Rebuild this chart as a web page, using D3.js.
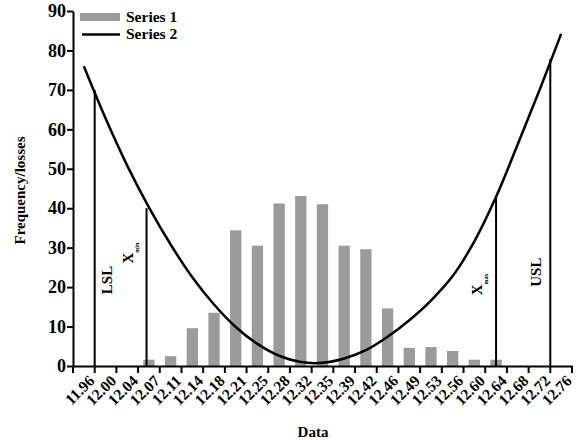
<!DOCTYPE html>
<html>
<head>
<meta charset="utf-8">
<script src="https://cdn.jsdelivr.net/npm/d3@7"></script>
<style>
  body { margin: 0; background: #fff; }
  svg text { font-family: "Liberation Serif", "Times New Roman", serif; font-weight: bold; }
</style>
</head>
<body>
<svg id="chart" width="578" height="440"></svg>
<script>
var categories = ["11.96", "12.00", "12.04", "12.07", "12.11", "12.14", "12.18", "12.21",
    "12.25", "12.28", "12.32", "12.35", "12.39", "12.42", "12.46", "12.49", "12.53",
    "12.56", "12.60", "12.64", "12.68", "12.72", "12.76"];

// Series 1: frequency bars
var series1 = [0, 0, 0, 1.6, 2.5, 9.6, 13.5, 34.4, 30.5, 41.2, 43.1, 41.0, 30.5, 29.6,
    14.6, 4.6, 4.8, 3.8, 1.6, 1.6, 0, 0, 0];

// Series 2: losses curve
var series2 = [76, 62.8, 50.8, 40.2, 30.8, 22.5, 15.6, 9.9, 5.6, 2.6, 1.0, 0.8, 1.9, 4.0,
    7.4, 11.6, 16.6, 22.8, 31.6, 42.9, 56.2, 69.9, 84.2];

var yTicks = [0, 10, 20, 30, 40, 50, 60, 70, 80, 90];

// spec limits, position in category index units, top = value on curve
var specNames = ["LSL", "X", "X", "USL"];
var specSubs = ["", "min", "max", ""];
var specPos = [0.5, 2.89, 19, 21.5];
var specTop = [70, 40, 42.9, 77.8];

var margin = {left: 73, right: 6, top: 11, bottom: 74};
var width = 578, height = 440;
var svg = d3.select("#chart");

var x = d3.scaleBand()
    .domain(categories)
    .range([margin.left, width - margin.right])
    .paddingInner(0.48)
    .paddingOuter(0.24);

// index scale, centre of band i at xi(i)
var xi = d3.scaleLinear()
    .domain([-0.5, categories.length - 0.5])
    .range([margin.left, width - margin.right]);

var y = d3.scaleLinear()
    .domain([0, 90])
    .range([height - margin.bottom, margin.top]);

// bars
svg.append("g").selectAll("rect")
    .data(series1.map(function(v, i) { return {c: categories[i], v: v}; })
        .filter(function(d) { return d.v > 0; }))
    .enter()
    .append("rect")
    .attr("x", function(d) { return x(d.c); })
    .attr("width", x.bandwidth())
    .attr("y", function(d) { return y(d.v); })
    .attr("height", function(d) { return y(0) - y(d.v); })
    .attr("fill", "#9b9b9b");

// spec lines
svg.append("g").selectAll("line")
    .data(specPos)
    .enter()
    .append("line")
    .attr("x1", function(d) { return xi(d); })
    .attr("x2", function(d) { return xi(d); })
    .attr("y1", y(0))
    .attr("y2", function(d, i) { return y(specTop[i]); })
    .attr("stroke", "#000")
    .attr("stroke-width", 2);

// curve
var line = d3.line()
    .x(function(d, i) { return xi(i); })
    .y(function(d) { return y(d); })
    .curve(d3.curveCatmullRom);

svg.append("path")
    .datum(series2)
    .attr("d", line)
    .attr("fill", "none")
    .attr("stroke", "#000")
    .attr("stroke-width", 2.5);

// spec labels
var labOff = [12, -18.5, -19, -15];
var labY = [21.8, 28.6, 20.7, 23.8];
specPos.forEach(function(p, i) {
    var t = svg.append("text")
        .attr("transform", "translate(" + (xi(p) + labOff[i]) + "," + y(labY[i]) + ") rotate(-90)")
        .attr("text-anchor", "middle")
        .attr("dy", "0.35em")
        .attr("font-size", 15);
    t.append("tspan").text(specNames[i]);
    if (specSubs[i]) {
        t.append("tspan").text(specSubs[i])
            .attr("font-size", 6)
            .attr("dy", "0.9em");
    }
});

// y axis
var yAxis = svg.append("g")
    .attr("transform", "translate(" + margin.left + ",0)")
    .call(d3.axisLeft(y).tickValues(yTicks).tickSize(6).tickSizeOuter(0).tickPadding(1));
yAxis.selectAll("line, path").attr("stroke", "#000").attr("stroke-width", 2);
yAxis.selectAll("text").attr("font-size", 18).attr("fill", "#000")
    .style("font-family", "Liberation Serif").style("font-weight", "bold");

// x axis
var xAxis = svg.append("g")
    .attr("transform", "translate(0," + y(0) + ")")
    .call(d3.axisBottom(x).tickSize(0).tickSizeOuter(0));
xAxis.select("path").attr("stroke", "#000").attr("stroke-width", 2);
xAxis.selectAll("text")
    .attr("font-size", 15.5)
    .attr("fill", "#000")
    .style("font-family", "Liberation Serif").style("font-weight", "bold")
    .attr("text-anchor", "end")
    .attr("transform", "translate(4,8) rotate(-45)")
    .attr("y", 0)
    .attr("dy", "0.7em");

// tick marks on band boundaries
var bounds = d3.range(categories.length + 1);
xAxis.selectAll(".bt")
    .data(bounds)
    .enter()
    .append("line")
    .attr("class", "bt")
    .attr("x1", function(d) { return xi(d - 0.5); })
    .attr("x2", function(d) { return xi(d - 0.5); })
    .attr("y1", 0)
    .attr("y2", 7)
    .attr("stroke", "#000")
    .attr("stroke-width", 2);

// axis titles
svg.append("text")
    .attr("transform", "translate(20," + ((y(0) + y(90)) / 2 + 2) + ") rotate(-90)")
    .attr("text-anchor", "middle")
    .attr("dy", "0.35em")
    .attr("font-size", 15)
    .text("Frequency/losses");

svg.append("text")
    .attr("x", 313)
    .attr("y", 437)
    .attr("text-anchor", "middle")
    .attr("font-size", 15)
    .text("Data");

// legend
var legend = svg.append("g").attr("transform", "translate(80,12)");
legend.append("rect").attr("x", 0).attr("y", 1).attr("width", 40).attr("height", 8).attr("fill", "#9b9b9b");
legend.append("text").attr("x", 46).attr("y", 10).attr("font-size", 15.5).text("Series 1");
legend.append("line").attr("x1", 2).attr("x2", 40).attr("y1", 22.5).attr("y2", 22.5)
    .attr("stroke", "#000").attr("stroke-width", 2.5);
legend.append("text").attr("x", 46).attr("y", 27).attr("font-size", 15.5).text("Series 2");
</script>
</body>
</html>
